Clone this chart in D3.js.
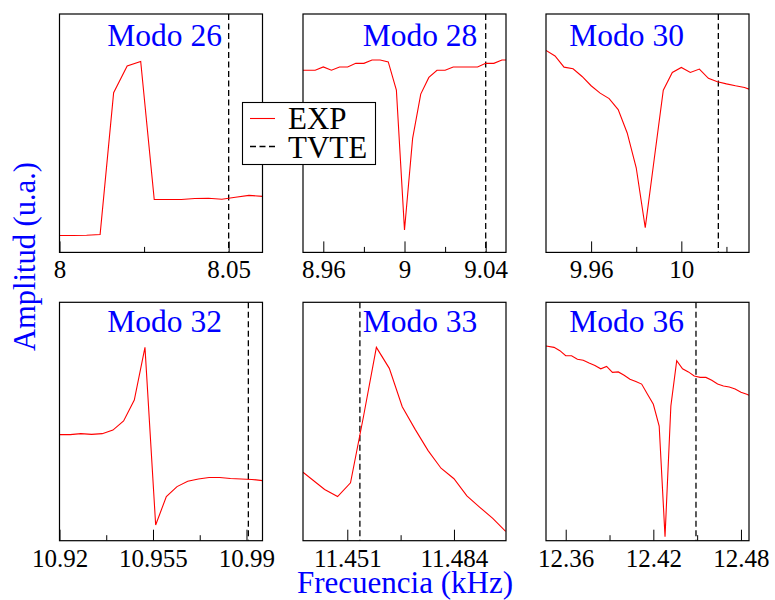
<!DOCTYPE html>
<html>
<head>
<meta charset="utf-8">
<script src="https://cdn.jsdelivr.net/npm/d3@7"></script>
<style>
  html, body { margin: 0; padding: 0; background: #fff; }
  svg { display: block; font-family: "Liberation Serif", "Times New Roman", serif; }
  svg text { font-family: "Liberation Serif", "Times New Roman", serif; }
</style>
</head>
<body>
<svg id="chart" width="775" height="600"></svg>
<script>
// Mode labels, one per panel (row-major)
const modeNames = ["Modo 26", "Modo 28", "Modo 30", "Modo 32", "Modo 33", "Modo 36"];

// Measured response (EXP): frequency in kHz, amplitude in arbitrary units
const freq26 = [8.000, 8.004, 8.008, 8.012, 8.016, 8.020, 8.024, 8.028, 8.032, 8.036, 8.040, 8.044, 8.048, 8.052, 8.056, 8.060];
const amp26  = [0.071, 0.071, 0.072, 0.075, 0.670, 0.782, 0.801, 0.222, 0.222, 0.222, 0.226, 0.227, 0.223, 0.231, 0.239, 0.235];

const freq28 = [8.948, 8.952, 8.956, 8.960, 8.964, 8.968, 8.972, 8.976, 8.980, 8.984, 8.988, 8.992, 8.996, 9.000,
                9.004, 9.008, 9.012, 9.016, 9.020, 9.024, 9.028, 9.032, 9.036, 9.040, 9.044, 9.048, 9.052];
const amp28  = [0.764, 0.764, 0.764, 0.778, 0.764, 0.778, 0.778, 0.793, 0.793, 0.807, 0.807, 0.799, 0.681, 0.094,
                0.478, 0.664, 0.734, 0.764, 0.764, 0.778, 0.778, 0.778, 0.778, 0.793, 0.793, 0.807, 0.807];

const freq30 = [9.940, 9.944, 9.948, 9.952, 9.956, 9.960, 9.964, 9.968, 9.972, 9.976, 9.980, 9.984,
                9.988, 9.992, 9.996, 10.000, 10.004, 10.008, 10.012, 10.016, 10.020, 10.024, 10.028, 10.032];
const amp30  = [0.847, 0.824, 0.777, 0.770, 0.738, 0.699, 0.668, 0.645, 0.599, 0.501, 0.355, 0.104,
                0.393, 0.680, 0.755, 0.776, 0.755, 0.769, 0.730, 0.716, 0.707, 0.699, 0.692, 0.678];

const freq32 = [10.920, 10.924, 10.928, 10.932, 10.936, 10.940, 10.944, 10.948, 10.952, 10.956,
                10.960, 10.964, 10.968, 10.972, 10.976, 10.980, 10.984, 10.988, 10.992, 10.996];
const amp32  = [0.445, 0.445, 0.449, 0.446, 0.449, 0.464, 0.502, 0.590, 0.811, 0.066,
                0.185, 0.227, 0.249, 0.259, 0.265, 0.265, 0.261, 0.259, 0.257, 0.252];

const freq33 = [11.4373, 11.444, 11.448, 11.452, 11.456, 11.460, 11.464, 11.468, 11.472, 11.476, 11.480, 11.484,
                11.488, 11.492, 11.496, 11.500];
const amp33  = [0.287, 0.215, 0.185, 0.243, 0.520, 0.811, 0.723, 0.562, 0.467, 0.378, 0.304, 0.260,
                0.188, 0.140, 0.094, 0.039];

const freq36 = [12.3465, 12.352, 12.356, 12.360, 12.364, 12.368, 12.372, 12.376, 12.380, 12.384, 12.388, 12.392,
                12.396, 12.400, 12.404, 12.408, 12.412, 12.416, 12.420, 12.424, 12.428, 12.432, 12.436, 12.440,
                12.444, 12.448, 12.452, 12.456, 12.460, 12.464, 12.468, 12.472, 12.476, 12.480, 12.484, 12.4855];
const amp36  = [0.817, 0.811, 0.797, 0.776, 0.776, 0.761, 0.757, 0.745, 0.735, 0.721, 0.731, 0.706,
                0.708, 0.694, 0.677, 0.668, 0.657, 0.614, 0.572, 0.481, 0.017, 0.565, 0.755, 0.721,
                0.708, 0.691, 0.685, 0.685, 0.673, 0.657, 0.649, 0.645, 0.636, 0.623, 0.614, 0.610];

// Theoretical (TVTE) resonance frequency per mode, kHz
const tvteFreq = [8.0500, 9.0400, 10.0164, 10.9907, 11.4549, 12.4492];

// Frequency range shown in each panel, kHz
const xMin = [8.000, 8.950, 9.940, 10.920, 11.4373, 12.3465];
const xMax = [8.060, 9.050, 10.030, 10.996, 11.5001, 12.4855];

// Labelled (major) and unlabelled (minor) tick values per panel
const majorTicks = [
  [8, 8.05],
  [8.96, 9, 9.04],
  [9.96, 10],
  [10.92, 10.955, 10.99],
  [11.451, 11.484],
  [12.36, 12.42, 12.48]
];
const majorLabels = [
  ["8", "8.05"],
  ["8.96", "9", "9.04"],
  ["9.96", "10"],
  ["10.92", "10.955", "10.99"],
  ["11.451", "11.484"],
  ["12.36", "12.42", "12.48"]
];
const minorTicks = [
  [8.025],
  [8.98, 9.02],
  [9.98, 10.02],
  [10.9375, 10.9725],
  [11.4675],
  [12.39, 12.45]
];

const freqs = [freq26, freq28, freq30, freq32, freq33, freq36];
const amps  = [amp26, amp28, amp30, amp32, amp33, amp36];

// ---- layout ----
const colLeft = [59.5, 303, 546];
const rowTop = [14, 302.3];
const panelW = 203;
const panelH = 238.4;
const titleDx = [47.8, 59.7, 23.3];     // title start offset from panel left, by column
const titleDy = [31.7, 29.4];           // title baseline offset from panel top, by row
const serif = "'Liberation Serif', 'Times New Roman', serif";

const svg = d3.select("#chart");
const defs = svg.append("defs");

modeNames.forEach((name, i) => {
  const col = i % 3, row = Math.floor(i / 3);
  const x0 = colLeft[col], y0 = rowTop[row];

  const x = d3.scaleLinear().domain([xMin[i], xMax[i]]).range([x0, x0 + panelW]);
  const y = d3.scaleLinear().domain([0, 1]).range([y0 + panelH, y0]);

  defs.append("clipPath").attr("id", "clip" + i)
    .append("rect").attr("x", x0).attr("y", y0).attr("width", panelW).attr("height", panelH);

  const g = svg.append("g").attr("class", "panel");

  // bottom axis: inward major ticks with labels
  const axMajor = d3.axisBottom(x)
    .tickValues(majorTicks[i])
    .tickFormat((d, k) => majorLabels[i][k])
    .tickSizeInner(-11)
    .tickSizeOuter(0);
  const gMaj = g.append("g").attr("transform", `translate(0,${y0 + panelH})`).call(axMajor);
  gMaj.attr("font-family", serif).attr("font-size", 25);
  gMaj.select(".domain").remove();
  gMaj.selectAll(".tick line").attr("stroke", "#000").attr("stroke-width", 1);
  gMaj.selectAll(".tick text")
    .attr("y", 26).attr("dy", 0)
    .attr("fill", "#000")
    .attr("font-family", serif)
    .attr("font-size", 25);

  // minor ticks
  const axMinor = d3.axisBottom(x)
    .tickValues(minorTicks[i])
    .tickFormat("")
    .tickSizeInner(-5.5)
    .tickSizeOuter(0);
  const gMin = g.append("g").attr("transform", `translate(0,${y0 + panelH})`).call(axMinor);
  gMin.select(".domain").remove();
  gMin.selectAll(".tick line").attr("stroke", "#000").attr("stroke-width", 1);

  const plot = g.append("g").attr("clip-path", `url(#clip${i})`);

  // TVTE resonance marker
  plot.append("line")
    .attr("x1", x(tvteFreq[i])).attr("x2", x(tvteFreq[i]))
    .attr("y1", y0).attr("y2", y0 + panelH)
    .attr("stroke", "#000").attr("stroke-width", 1.3)
    .attr("stroke-dasharray", "6,3.5");

  // measured curve
  const pts = freqs[i].map((f, k) => [f, amps[i][k]]);
  plot.append("path")
    .datum(pts)
    .attr("fill", "none")
    .attr("stroke", "#ff0000")
    .attr("stroke-width", 1.1)
    .attr("stroke-linejoin", "miter")
    .attr("d", d3.line().x(d => x(d[0])).y(d => y(d[1])));

  // frame
  g.append("rect")
    .attr("x", x0).attr("y", y0).attr("width", panelW).attr("height", panelH)
    .attr("fill", "none").attr("stroke", "#000").attr("stroke-width", 1.2);

  // mode title
  g.append("text")
    .attr("x", x0 + titleDx[col]).attr("y", y0 + titleDy[row])
    .attr("fill", "#0000ff")
    .style("font-size", "31.5px")
    .text(name);
});

// legend
const leg = svg.append("g").attr("class", "legend");
leg.append("rect")
  .attr("x", 242.5).attr("y", 102.5).attr("width", 133).attr("height", 62)
  .attr("fill", "#fff").attr("stroke", "#000").attr("stroke-width", 1.1);
leg.append("line").attr("x1", 250).attr("x2", 275).attr("y1", 118.5).attr("y2", 118.5)
  .attr("stroke", "#ff0000").attr("stroke-width", 1.1);
leg.append("line").attr("x1", 250).attr("x2", 275).attr("y1", 146.5).attr("y2", 146.5)
  .attr("stroke", "#000").attr("stroke-width", 1.3).attr("stroke-dasharray", "6,3.5");
leg.append("text").attr("x", 288).attr("y", 128.5).attr("fill", "#000")
  .style("font-size", "31px").text("EXP");
leg.append("text").attr("x", 288).attr("y", 157.8).attr("fill", "#000")
  .style("font-size", "31px").text("TVTE");

// axis titles
svg.append("text")
  .attr("transform", "translate(35,256.5) rotate(-90)")
  .attr("text-anchor", "middle")
  .attr("fill", "#0000ff")
  .style("font-size", "30.5px")
  .text("Amplitud (u.a.)");

svg.append("text")
  .attr("x", 405).attr("y", 593)
  .attr("text-anchor", "middle")
  .attr("fill", "#0000ff")
  .style("font-size", "31px")
  .text("Frecuencia (kHz)");
</script>
</body>
</html>
